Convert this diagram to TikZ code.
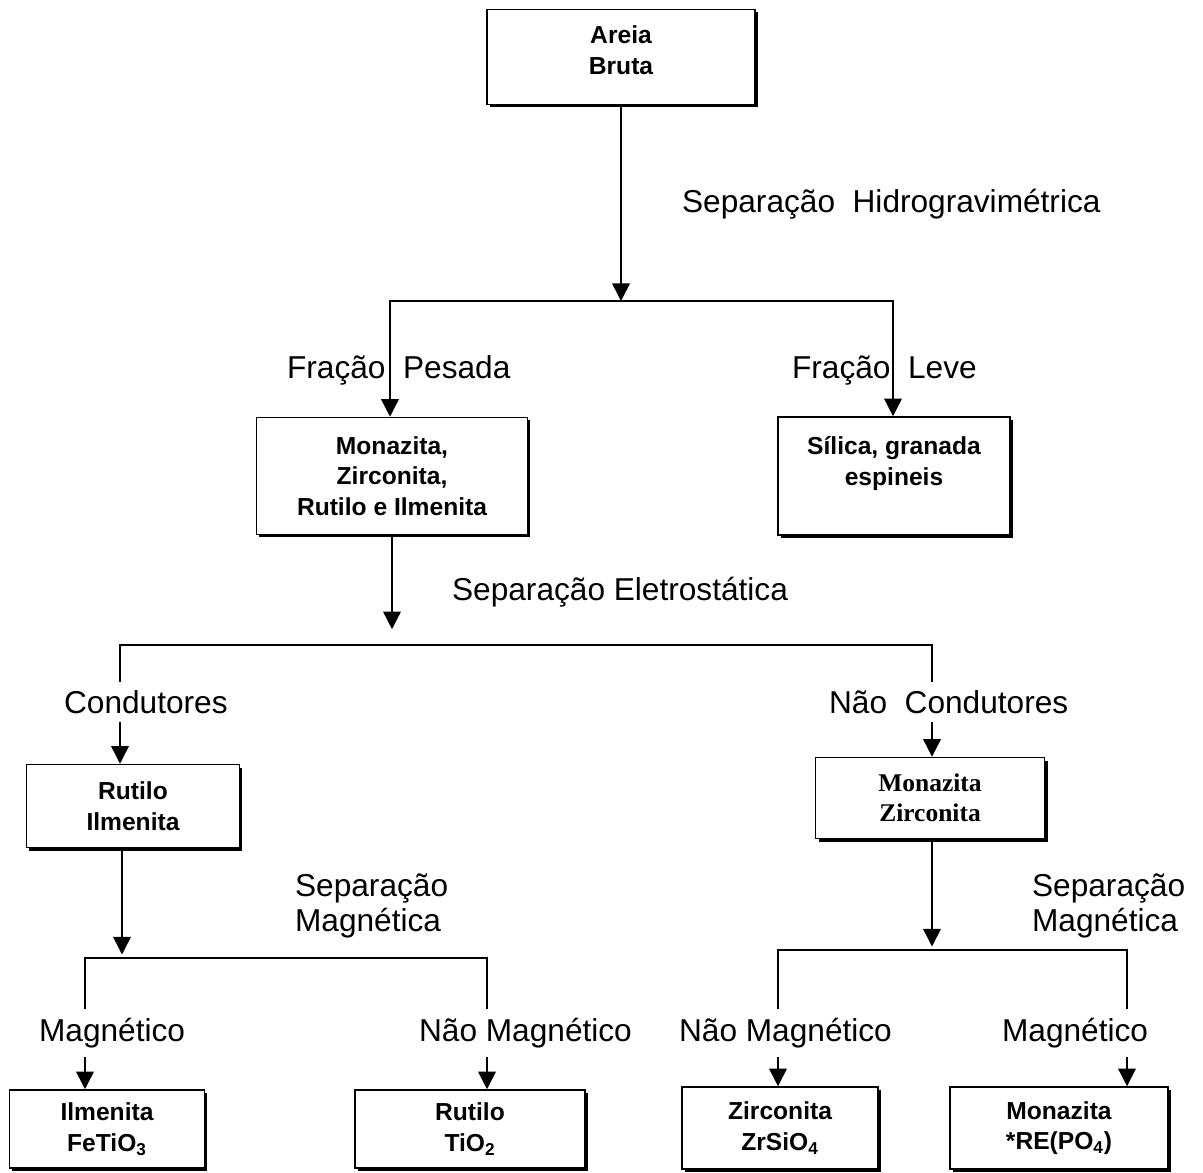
\documentclass[tikz,border=0pt]{standalone}
\usepackage{fontspec}
\setmainfont{Liberation Sans}
\newfontfamily\serifbox{Liberation Serif}
\usetikzlibrary{arrows.meta,shadows}

\begin{document}
\begin{tikzpicture}[x=0.2mm,y=-0.2mm,
  box/.style={draw, line width=0.9pt, fill=white, align=center, inner sep=0pt,
    font=\bfseries\fontsize{14}{17.5}\selectfont,
    drop shadow={shadow xshift=1.7pt, shadow yshift=-1.7pt, opacity=1, fill=black}},
  sz/.style 2 args={minimum width=#1*0.2mm, minimum height=#2*0.2mm},
  lbl/.style={font=\fontsize{18}{20}\selectfont, inner sep=1pt, anchor=west},
  cover/.style={lbl, fill=white, inner ysep=5pt},
  link/.style={line width=0.9pt},
  bar/.style={link, line cap=rect},
  arr/.style={link, -{Triangle[width=10pt,length=10pt]}},
]
\useasboundingbox (0,0) rectangle (1203,1172);

% boxes
\node[box, sz={268}{95}]  (areia)  at (621,57)   {Areia\\Bruta\rule[-8pt]{0pt}{0pt}};
\node[box, sz={271}{117}] (pesada) at (392,476)  {Monazita,\\Zirconita,\\Rutilo e Ilmenita};
\node[box, sz={232}{118}] (leve)   at (894,476)  {Sílica, granada\\espineis\rule[-17pt]{0pt}{0pt}};
\node[box, sz={213}{83}]  (rutil)  at (133,806)  {Rutilo\\Ilmenita};
\node[box, sz={229}{81}, font=\serifbox\bfseries\fontsize{14.5}{17}\selectfont]
                          (monzir) at (930,798)  {Monazita\\Zirconita};
\node[box, sz={195}{78}]  (ilm)    at (107,1129) {Ilmenita\\FeTiO\textsubscript{3}};
\node[box, sz={230}{78}]  (rut)    at (470,1129) {Rutilo\\TiO\textsubscript{2}};
\node[box, sz={196}{82}]  (zir)    at (780,1128) {Zirconita\\ZrSiO\textsubscript{4}};
\node[box, sz={218}{82}]  (mon)    at (1059,1128) {Monazita\\*RE(PO\textsubscript{4})};

% branch points
\coordinate (j1) at (621,301);  \coordinate (j1L) at (390,301);  \coordinate (j1R) at (893,301);
\coordinate (j2) at (392,645);  \coordinate (j2L) at (120,645);  \coordinate (j2R) at (932,645);
\coordinate (j3) at (122,958);  \coordinate (j3L) at (85,958);   \coordinate (j3R) at (487,958);
\coordinate (j4) at (932,950);  \coordinate (j4L) at (778,950);  \coordinate (j4R) at (1127,950);

% hydrogravimetric split
\draw[arr] (areia.south) -- (j1);
\draw[bar] (j1L) -- (j1R);
\draw[arr] (j1L) -- (j1L |- pesada.north);
\draw[arr] (j1R) -- (j1R |- leve.north);

% electrostatic split
\draw[arr, shorten >=9pt] (pesada.south) -- (j2);
\draw[bar] (j2L) -- (j2R);
\draw[arr] (j2L) -- (j2L |- rutil.north);
\draw[arr] (j2R) -- (j2R |- monzir.north);

% magnetic split, conductors
\draw[arr, shorten >=2pt] (j3 |- rutil.south) -- (j3);
\draw[bar] (j3L) -- (j3R);
\draw[arr] (j3L) -- (j3L |- ilm.north);
\draw[arr] (j3R) -- (j3R |- rut.north);

% magnetic split, non-conductors
\draw[arr, shorten >=2pt] (j4 |- monzir.south) -- (j4);
\draw[bar] (j4L) -- (j4R);
\draw[arr] (j4L) -- (j4L |- zir.north);
\draw[arr] (j4R) -- (j4R |- mon.north);

% labels
\node[lbl] (lhidro) at (680,204) {Separação\ \ Hidrogravimétrica};
\node[lbl] (lpes)   at (285,370) {Fração\ \ Pesada};
\node[lbl] (llev)   at (790,370) {Fração\ \ Leve};
\node[lbl] (leletr) at (450,592) {Separação Eletrostática};
\node[cover] (lcond)  at (62,702)  {Condutores};
\node[cover] (lncond) at (827,702) {Não\ \ Condutores};
\node[lbl, align=left] (lmag1) at (293,906) {Separação\\Magnética};
\node[lbl, align=left] (lmag2) at (1030,906) {Separação\\Magnética};
\node[cover] (lm1)  at (37,1033)   {Magnético};
\node[cover] (lnm1) at (417,1033)  {Não Magnético};
\node[cover] (lnm2) at (677,1033)  {Não Magnético};
\node[cover] (lm2)  at (1000,1033) {Magnético};
\end{tikzpicture}
\end{document}
